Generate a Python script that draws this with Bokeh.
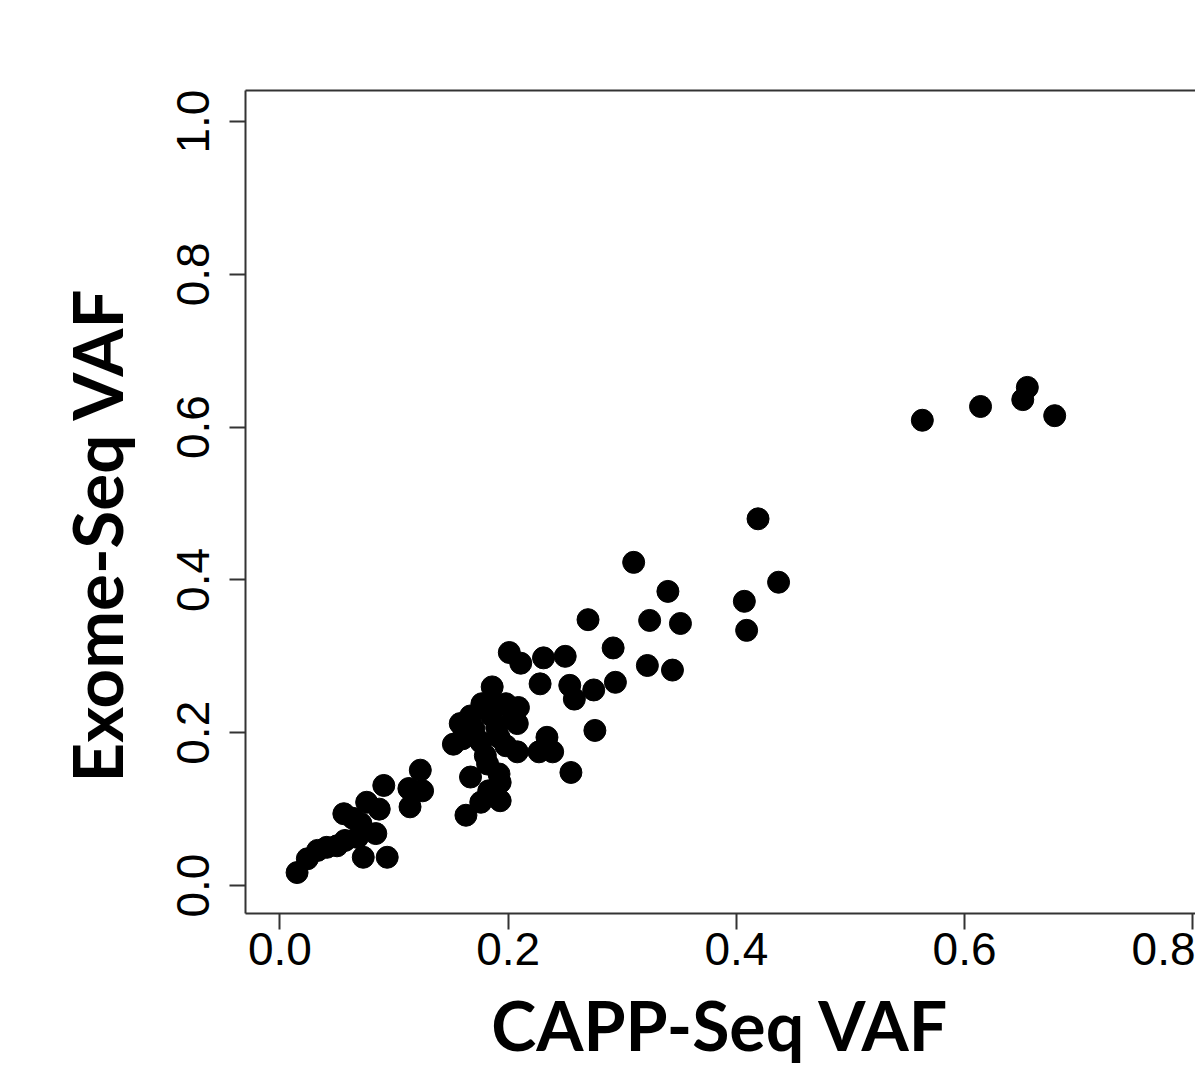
from bokeh.plotting import figure
from bokeh.models import LinearAxis, FixedTicker, NumeralTickFormatter, Range1d, Title
from bokeh.embed import file_html
from bokeh.resources import INLINE

# CAPP-Seq VAF (x) vs Exome-Seq VAF (y)
capp_vaf = [0.015, 0.024, 0.033, 0.041, 0.050, 0.057, 0.056, 0.071, 0.076, 0.087,
            0.091, 0.084, 0.073, 0.094, 0.068, 0.064, 0.114, 0.113, 0.123, 0.125,
            0.152, 0.158, 0.161, 0.170, 0.176, 0.192, 0.208, 0.208, 0.227, 0.234,
            0.239, 0.186, 0.177, 0.185, 0.198, 0.209, 0.190, 0.204, 0.228, 0.254,
            0.258, 0.255, 0.167, 0.182, 0.180, 0.192, 0.193, 0.193, 0.176, 0.163,
            0.201, 0.211, 0.231, 0.250, 0.275, 0.294, 0.276, 0.270, 0.292, 0.310,
            0.340, 0.324, 0.351, 0.322, 0.344, 0.419, 0.437, 0.407, 0.409,
            0.167, 0.189, 0.160, 0.198, 0.183,
            0.563, 0.614, 0.651, 0.655, 0.679]
exome_vaf = [0.017, 0.035, 0.046, 0.050, 0.052, 0.059, 0.094, 0.081, 0.109, 0.100,
             0.131, 0.068, 0.037, 0.037, 0.063, 0.088, 0.103, 0.127, 0.151, 0.124,
             0.185, 0.212, 0.196, 0.205, 0.188, 0.194, 0.212, 0.175, 0.175, 0.194,
             0.175, 0.260, 0.238, 0.223, 0.238, 0.233, 0.207, 0.219, 0.264, 0.262,
             0.244, 0.148, 0.142, 0.159, 0.170, 0.146, 0.135, 0.111, 0.109, 0.092,
             0.305, 0.291, 0.298, 0.300, 0.256, 0.266, 0.203, 0.348, 0.311, 0.423,
             0.385, 0.347, 0.343, 0.288, 0.282, 0.480, 0.397, 0.372, 0.334,
             0.222, 0.236, 0.192, 0.183, 0.124,
             0.609, 0.627, 0.636, 0.652, 0.615]

x_ticks = [0.0, 0.2, 0.4, 0.6, 0.8]
y_ticks = [0.0, 0.2, 0.4, 0.6, 0.8, 1.0]
x_title = "CAPP-Seq VAF"
y_title = "Exome-Seq VAF"

line_col = "#333333"

p = figure(width=1195, height=1079, output_backend="svg", toolbar_location=None,
           x_range=Range1d(-0.0302, 0.8024), y_range=Range1d(-0.0366, 1.0406),
           x_axis_location=None, y_axis_location=None,
           min_border_left=245, min_border_right=0, min_border_top=90,
           min_border_bottom=166)
p.outline_line_color = None
p.xgrid.visible = False
p.ygrid.visible = False
p.background_fill_color = "white"

xa = LinearAxis(ticker=FixedTicker(ticks=x_ticks), formatter=NumeralTickFormatter(format="0.0"))
ya = LinearAxis(ticker=FixedTicker(ticks=y_ticks), formatter=NumeralTickFormatter(format="0.0"))
for ax in (xa, ya):
    ax.axis_line_color = line_col
    ax.axis_line_width = 2
    ax.major_tick_line_color = line_col
    ax.major_tick_line_width = 2
    ax.major_tick_out = 16
    ax.major_tick_in = 0
    ax.minor_tick_line_color = None
    ax.major_label_text_font = "Liberation Sans"
    ax.major_label_text_font_size = "46px"
    ax.major_label_text_color = "black"

xa.major_label_standoff = 3
ya.major_label_orientation = "vertical"
ya.major_label_standoff = 20

p.add_layout(xa, "below")
p.add_layout(ya, "left")

top = LinearAxis(ticker=FixedTicker(ticks=[]), major_label_text_font_size="0px")
top.axis_line_color = line_col
top.axis_line_width = 2
top.major_tick_line_color = None
top.minor_tick_line_color = None
p.add_layout(top, "above")

p.scatter(capp_vaf, exome_vaf, size=22, color="black", line_color="black")

xt = Title(text=x_title, align="center", text_font="Lato", text_font_style="bold",
           text_font_size="68px", text_color="black", standoff=29, offset=-2)
yt = Title(text=y_title, align="left", text_font="Lato", text_font_style="bold",
           text_font_size="69px", text_color="black", standoff=74, offset=131)
p.add_layout(xt, "below")
p.add_layout(yt, "left")

open("out.html", "w").write(file_html(p, INLINE))
